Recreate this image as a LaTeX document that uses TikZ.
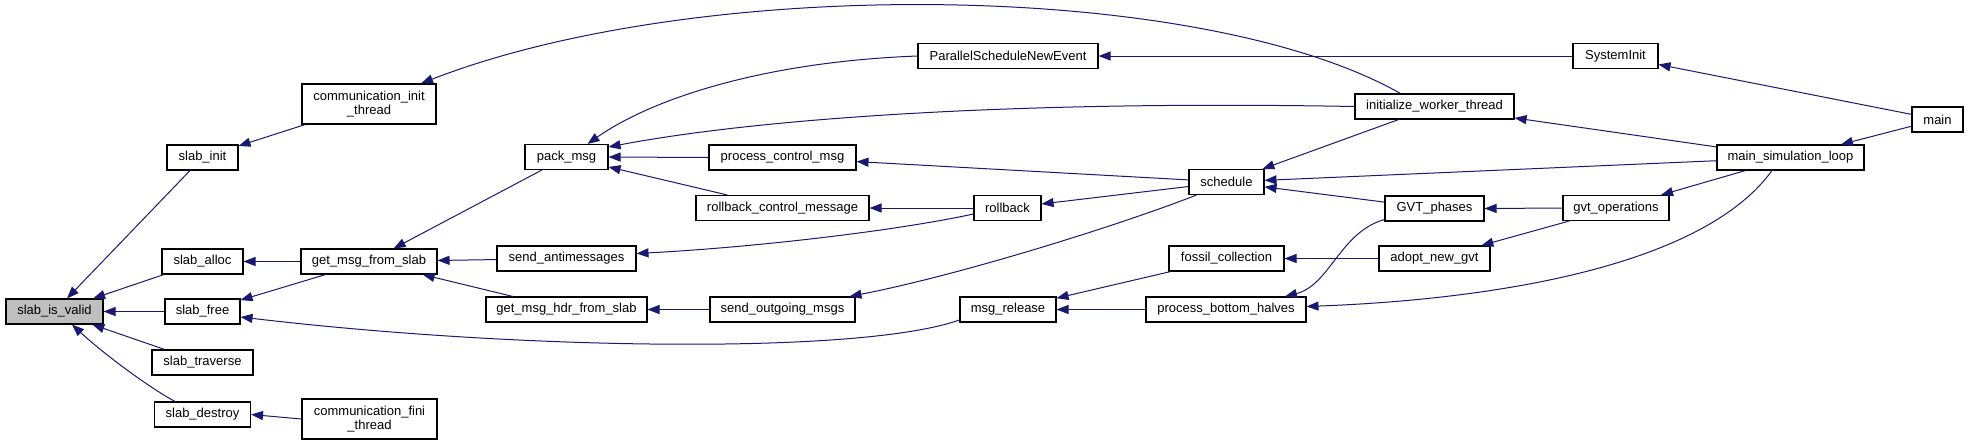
\documentclass[tikz,border=0pt]{standalone}
\usepackage{fontspec}
\setmainfont{Liberation Sans}
\usetikzlibrary{arrows.meta,calc}
\definecolor{midnight}{HTML}{191970}
\definecolor{nodegray}{HTML}{BFBFBF}
\begin{document}
\begin{tikzpicture}[x=0.75pt,y=-0.75pt,
  fn/.style={draw=black, line width=0.8pt, fill=white, inner sep=0pt,
    minimum height=18.75pt, align=center,
    font=\fontsize{9.75}{10.7}\selectfont},
  twoline/.style={minimum height=30pt},
  current/.style={fill=nodegray},
  callarrow/.style={draw=midnight, line width=0.75pt,
    -{Triangle[length=9pt,width=6.8pt]}}]
\useasboundingbox (0,0) rectangle (1968,444);

% column 1
\node[fn,current,minimum width=72.75pt] (siv) at (54.5,311.5) {slab\_is\_valid};
% column 2
\node[fn,minimum width=53.25pt] (sinit) at (202.5,157.5) {slab\_init};
\node[fn,minimum width=60.75pt] (salloc) at (202.5,261.5) {slab\_alloc};
\node[fn,minimum width=56.25pt] (sfree) at (202.5,311.5) {slab\_free};
\node[fn,minimum width=75.75pt] (strav) at (202.5,362.5) {slab\_traverse};
\node[fn,minimum width=72pt] (sdest) at (202.5,414.5) {slab\_destroy};
% column 3
\node[fn,twoline,minimum width=100.5pt] (cinit) at (369,104) {communication\_init\\\_thread};
\node[fn,minimum width=102pt] (gmfs) at (369,261.5) {get\_msg\_from\_slab};
\node[fn,twoline,minimum width=101.25pt] (cfini) at (369.5,419) {communication\_fini\\\_thread};
% column 4
\node[fn,minimum width=62.25pt] (pack) at (566.5,157) {pack\_msg};
\node[fn,minimum width=104.25pt] (santi) at (566.5,258.5) {send\_antimessages};
\node[fn,minimum width=120.75pt] (gmhfs) at (566.5,309.5) {get\_msg\_hdr\_from\_slab};
% column 5
\node[fn,minimum width=135pt] (psne) at (1008,56) {ParallelScheduleNewEvent};
\node[fn,minimum width=110.25pt] (pcm) at (782.5,157.5) {process\_control\_msg};
\node[fn,minimum width=129.75pt] (rcm) at (782.5,208) {rollback\_control\_message};
\node[fn,minimum width=108.75pt] (sog) at (782.5,309.5) {send\_outgoing\_msgs};
% column 6
\node[fn,minimum width=50.25pt] (rb) at (1007.5,208) {rollback};
\node[fn,minimum width=72pt] (mrel) at (1008,309.5) {msg\_release};
% column 7
\node[fn,minimum width=56.25pt] (sched) at (1226.5,182) {schedule};
\node[fn,minimum width=86.25pt] (fc) at (1226.5,258.5) {fossil\_collection};
\node[fn,minimum width=120pt] (pbh) at (1226,309.5) {process\_bottom\_halves};
% column 8
\node[fn,minimum width=119.25pt] (iwt) at (1434.5,106.5) {initialize\_worker\_thread};
\node[fn,minimum width=74.25pt] (gvtp) at (1434.5,208.5) {GVT\_phases};
\node[fn,minimum width=83.25pt] (ang) at (1434.5,258.5) {adopt\_new\_gvt};
% column 9
\node[fn,minimum width=63.75pt] (sysi) at (1615.5,56) {SystemInit};
\node[fn,minimum width=79.5pt] (gvto) at (1616,208) {gvt\_operations};
% column 10
\node[fn,minimum width=110.25pt] (msl) at (1790.5,157.5) {main\_simulation\_loop};
% column 11
\node[fn,minimum width=38.25pt] (main) at (1937.5,119.5) {main};

% edges into slab_is_valid
\draw[callarrow] (sinit) -- (siv);
\draw[callarrow] (salloc) -- (siv);
\draw[callarrow] (sfree) -- (siv);
\draw[callarrow] (strav) -- (siv);
\draw[callarrow] ($(sdest.north)+(-27.5,0)$) .. controls (150,388) and (105,355) .. ($(siv.south)+(17.5,0)$);

% column 3 -> column 2
\draw[callarrow] (cinit) -- (sinit);
\draw[callarrow] (gmfs) -- (salloc);
\draw[callarrow] (gmfs) -- (sfree);
\draw[callarrow] (cfini.west) -- (sdest.east);
\draw[callarrow] ($(mrel.west)+(0,10.5)$) .. controls (860,355) and (520,350) .. ($(sfree.east)+(0,5.5)$);

% into column 3
\draw[callarrow] ($(iwt.north)+(-34,0)$) .. controls (1200,-20) and (700,-25) .. ($(cinit.north)+(52,0)$);
\draw[callarrow] (pack) -- (gmfs);
\draw[callarrow] (santi) -- (gmfs);
\draw[callarrow] (gmhfs) -- (gmfs);

% into column 4
\draw[callarrow] (psne.west) .. controls (760,62) and (650,100) .. ($(pack.north)+(21,0)$);
\draw[callarrow] (iwt.west) .. controls (1000,100) and (750,120) .. ($(pack.east)+(0,-10)$);
\draw[callarrow] (pcm.west) -- (pack.east);
\draw[callarrow] (rcm) -- (pack);
\draw[callarrow] ($(rb.west)+(0,6)$) .. controls (900,230) and (760,247) .. ($(santi.east)+(0,-5)$);
\draw[callarrow] (sog.west) -- (gmhfs.east);

% into column 5
\draw[callarrow] (sysi.west) -- (psne.east);
\draw[callarrow] (sched) -- (pcm);
\draw[callarrow] (rb.west) -- (rcm.east);
\draw[callarrow] ($(sched.south)+(-30,0)$) .. controls (1120,225) and (960,275) .. ($(sog.north)+(67,0)$);

% into column 6
\draw[callarrow] (sched) -- (rb);
\draw[callarrow] (fc) -- (mrel);
\draw[callarrow] (pbh.west) -- (mrel.east);

% into column 7
\draw[callarrow] (iwt) -- (sched);
\draw[callarrow] (msl) -- (sched);
\draw[callarrow] (gvtp) -- (sched);
\draw[callarrow] (ang.west) -- (fc.east);
\draw[callarrow] ($(gvtp.south west)+(0,-2)$) .. controls (1340,232) and (1330,285) .. ($(pbh.north)+(59,0)$);
\draw[callarrow] ($(msl.south)+(-18.5,0)$) .. controls (1700,270) and (1480,300) .. ($(pbh.east)+(0,-3)$);

% into column 8
\draw[callarrow] (msl) -- (iwt);
\draw[callarrow] (gvto.west) -- (gvtp.east);
\draw[callarrow] (gvto) -- (ang);

% into column 9
\draw[callarrow] (main) -- (sysi);
\draw[callarrow] (msl) -- (gvto);

% into column 10
\draw[callarrow] (main) -- (msl);
\end{tikzpicture}
\end{document}
